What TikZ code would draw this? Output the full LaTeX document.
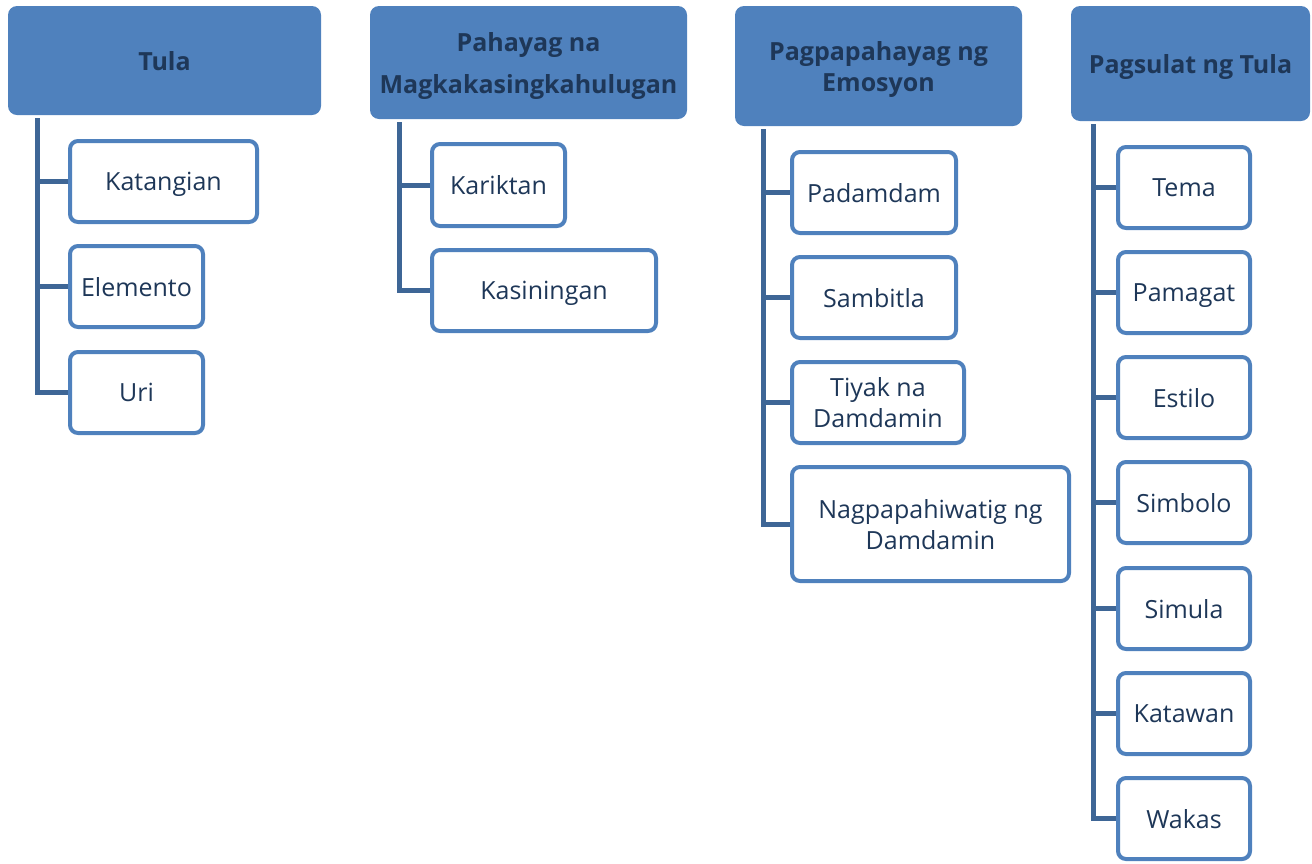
\documentclass[tikz,border=0pt]{standalone}
\usepackage{fontspec}
\setmainfont{Open Sans}
\usepackage{xcolor}
\usetikzlibrary{positioning, calc}
\definecolor{headblue}{RGB}{79, 129, 189}
\definecolor{linkblue}{RGB}{62, 102, 150}
\definecolor{inkblue}{RGB}{30, 55, 88}

\tikzset{
    head/.style={rectangle, rounded corners=9pt, fill=headblue, draw=none, inner sep=0pt,
        align=center, text depth=0pt, text=inkblue, font=\fontsize{25}{31}\selectfont\bfseries},
    item/.style={rectangle, rounded corners=8pt, fill=white, draw=headblue, line width=4pt,
        inner sep=0pt, align=center, text depth=0pt, text=inkblue, font=\fontsize{25}{31}\selectfont},
    link/.style={draw=linkblue, line width=5pt}
}

\begin{document}
\begin{tikzpicture}[x=1pt, y=-1pt]
    \useasboundingbox (0,0) rectangle (1312,863);

    % headers
    \node[head, minimum width=313pt, minimum height=109pt] (tula) at (164.5, 60.5) {Tula};
    \node[head, minimum width=317pt, minimum height=113pt, font=\fontsize{25}{42}\selectfont\bfseries] (pahayag) at (528.5, 62.5) {Pahayag na\\Magkakasingkahulugan};
    \node[head, minimum width=287pt, minimum height=120pt] (emosyon) at (878.5, 66) {Pagpapahayag ng\\Emosyon};
    \node[head, minimum width=239pt, minimum height=115pt] (pagsulat) at (1190.5, 63.5) {Pagsulat ng Tula};

    % Tula
    \node[item, minimum width=187pt, minimum height=81pt] (katangian) at (163.5, 181.5) {Katangian};
    \node[item, minimum width=133pt, minimum height=81pt] (elemento) at (136.5, 286.5) {Elemento};
    \node[item, minimum width=133pt, minimum height=81pt] (uri) at (136.5, 392.5) {Uri};

    % Pahayag na Magkakasingkahulugan
    \node[item, minimum width=133pt, minimum height=82pt] (kariktan) at (498.5, 185) {Kariktan};
    \node[item, minimum width=224pt, minimum height=81pt] (kasiningan) at (544, 290.5) {Kasiningan};

    % Pagpapahayag ng Emosyon
    \node[item, minimum width=164pt, minimum height=81pt] (padamdam) at (874, 192.5) {Padamdam};
    \node[item, minimum width=164pt, minimum height=81pt] (sambitla) at (874, 297.5) {Sambitla};
    \node[item, minimum width=172pt, minimum height=81pt] (tiyak) at (878, 402.5) {Tiyak na\\Damdamin};
    \node[item, minimum width=277pt, minimum height=114pt] (nagpapahiwatig) at (930.5, 524) {Nagpapahiwatig ng\\Damdamin};

    % Pagsulat ng Tula
    \node[item, minimum width=132pt, minimum height=81pt] (tema) at (1184, 187.5) {Tema};
    \node[item, minimum width=132pt, minimum height=81pt] (pamagat) at (1184, 292.5) {Pamagat};
    \node[item, minimum width=132pt, minimum height=81pt] (estilo) at (1184, 397.5) {Estilo};
    \node[item, minimum width=132pt, minimum height=81pt] (simbolo) at (1184, 502.5) {Simbolo};
    \node[item, minimum width=132pt, minimum height=81pt] (simula) at (1184, 608.5) {Simula};
    \node[item, minimum width=132pt, minimum height=81pt] (katawan) at (1184, 713.5) {Katawan};
    \node[item, minimum width=132pt, minimum height=81pt] (wakas) at (1184, 818.5) {Wakas};

    % trunk tops
    \coordinate (tulatop) at (37, 118);
    \coordinate (pahayagtop) at (399, 122);
    \coordinate (emosyontop) at (763, 129);
    \coordinate (pagsulattop) at (1093, 124);

    % connectors
    \draw[link] (tulatop) |- (uri.west);
    \foreach \c in {katangian, elemento}
        \draw[link] (tulatop |- \c.west) -- (\c.west);

    \draw[link] (pahayagtop) |- (kasiningan.west);
    \draw[link] (pahayagtop |- kariktan.west) -- (kariktan.west);

    \draw[link] (emosyontop) |- (nagpapahiwatig.west);
    \foreach \c in {padamdam, sambitla, tiyak}
        \draw[link] (emosyontop |- \c.west) -- (\c.west);

    \draw[link] (pagsulattop) |- (wakas.west);
    \foreach \c in {tema, pamagat, estilo, simbolo, simula, katawan}
        \draw[link] (pagsulattop |- \c.west) -- (\c.west);
\end{tikzpicture}
\end{document}
